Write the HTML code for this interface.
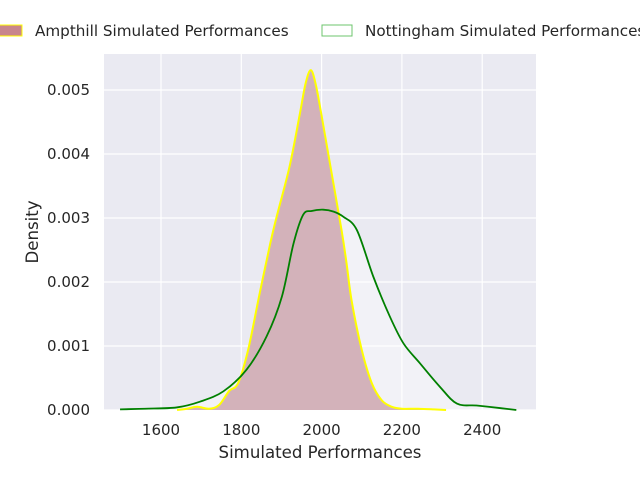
<!DOCTYPE html>
<html><head><meta charset="utf-8"><style>
body{margin:0;background:#fff;}
svg{display:block;font-family:"DejaVu Sans","Liberation Sans",sans-serif;}
</style></head><body>
<svg id="chart" width="640" height="480">
<rect x="104" y="54" width="432" height="356" fill="#eaeaf2"/>
<g id="grid"></g>
<g id="series"></g>
<g id="ticks" font-size="15" fill="#262626"></g>
<text x="320" y="458" text-anchor="middle" font-size="16.6" fill="#262626">Simulated Performances</text>
<text transform="translate(38,232) rotate(-90)" text-anchor="middle" font-size="16.6" fill="#262626">Density</text>
<g font-size="15.2" fill="#262626">
<g>
<rect x="-6" y="25" width="28" height="11" fill="#c8868c" stroke="#ffff00" stroke-width="1"/>
<text x="35" y="36">Ampthill Simulated Performances</text></g>
<g>
<rect x="322" y="25" width="30" height="11" fill="#fff" stroke="#6cc46c" stroke-width="1"/>
<text x="365" y="36">Nottingham Simulated Performances</text></g>
</g>
</svg>
<script>
const xTicks=[1600,1800,2000,2200,2400];
const yTicks=[0,0.001,0.002,0.003,0.004,0.005];
const yTickLabels=["0.000","0.001","0.002","0.003","0.004","0.005"];
const ampX=[1640,1665,1690,1720,1745,1770,1792,1817,1845,1872,1888,1920,1945,1960,1973,1985,2000,2025,2050,2062,2075,2100,2125,2150,2175,2200,2240,2280,2310];
const ampY=[0,0.00002,0.00005,0.00002,0.00008,0.0003,0.00042,0.00094,0.0018,0.0026,0.00302,0.0038,0.0046,0.0051,0.00531,0.0051,0.0046,0.0037,0.0028,0.0023,0.0017,0.00094,0.00042,0.00015,0.00005,0.00002,0.00002,0.00001,0];
const notX=[1498,1560,1639,1697,1755,1813,1863,1901,1930,1954,1975,2004,2030,2054,2088,2129,2170,2204,2245,2295,2337,2386,2444,2485];
const notY=[0.00001,0.00002,0.00004,0.00013,0.00029,0.00063,0.00115,0.00177,0.0026,0.00305,0.00311,0.00313,0.0031,0.00302,0.00281,0.00208,0.00146,0.00104,0.00073,0.00036,0.0001,0.00007,0.00003,0];
const X=v=>161+(v-1600)*80.3/200;
const Y=v=>410-v*64000;
const NS="http://www.w3.org/2000/svg";
function mk(t,a,p){const e=document.createElementNS(NS,t);for(const k in a)e.setAttribute(k,a[k]);p.appendChild(e);return e;}
const grid=document.getElementById('grid'),ticks=document.getElementById('ticks'),ser=document.getElementById('series');
xTicks.forEach(v=>{
 const l=mk('line',{x1:X(v),x2:X(v),y1:54,y2:410,stroke:'#fff','stroke-width':1.2},grid);
 
 
 const t=mk('text',{x:X(v),y:435,'text-anchor':'middle'},ticks);t.textContent=v;
 
 
});
yTicks.forEach((v,i)=>{
 const l=mk('line',{x1:104,x2:536,y1:Y(v),y2:Y(v),stroke:'#fff','stroke-width':1.2},grid);
 
 
 const t=mk('text',{x:90,y:Y(v)+5,'text-anchor':'end'},ticks);t.textContent=yTickLabels[i];
 
 
});
function path(xs,ys){
 const p=xs.map((x,i)=>[X(x),Y(ys[i])]);
 let d='M'+p[0][0]+','+p[0][1];
 for(let i=0;i<p.length-1;i++){
  const p0=p[i-1]||p[i],p1=p[i],p2=p[i+1],p3=p[i+2]||p2;
  d+=' C'+(p1[0]+(p2[0]-p0[0])/6)+','+(p1[1]+(p2[1]-p0[1])/6)+' '+(p2[0]-(p3[0]-p1[0])/6)+','+(p2[1]-(p3[1]-p1[1])/6)+' '+p2[0]+','+p2[1];
 }
 return d;
}
const ad=path(ampX,ampY);
const nd=path(notX,notY);
const nf=mk('path',{d:nd+' L'+X(notX[notX.length-1])+',410 L'+X(notX[0])+',410 Z',fill:'rgba(255,255,255,0.4)'},ser);


const af=mk('path',{d:ad+' L'+X(ampX[ampX.length-1])+',410 L'+X(ampX[0])+',410 Z',fill:'#d3b2ba'},ser);


const al=mk('path',{d:ad,fill:'none',stroke:'#ffff00','stroke-width':2},ser);


const nl=mk('path',{d:nd,fill:'none',stroke:'#008000','stroke-width':1.8},ser);


</script>
</body></html>
